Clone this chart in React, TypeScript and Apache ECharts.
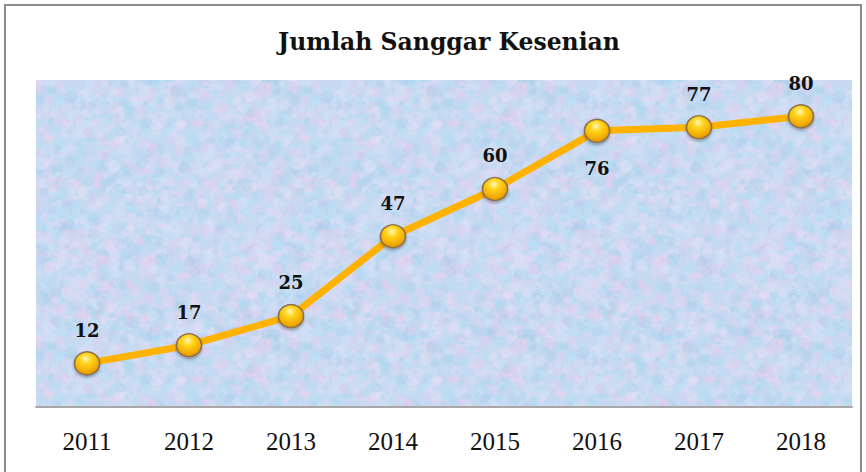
import React, { useEffect, useRef } from "react";
import * as echarts from "echarts";

const titleText = "Jumlah Sanggar Kesenian";
const years = ["2011", "2012", "2013", "2014", "2015", "2016", "2017", "2018"];
const counts = [12, 17, 25, 47, 60, 76, 77, 80];
const labelBelow = ["2016"];

function makeTexture(): HTMLCanvasElement {
  const c = document.createElement("canvas");
  c.width = 256;
  c.height = 256;
  const ctx = c.getContext("2d")!;
  ctx.fillStyle = "rgb(198,218,242)";
  ctx.fillRect(0, 0, 256, 256);
  let seed = 12345;
  const rnd = () => {
    seed = (seed * 1103515245 + 12345) & 0x7fffffff;
    return seed / 0x7fffffff;
  };
  const tints = [
    "rgba(232,206,238,0.34)",
    "rgba(176,224,244,0.34)",
    "rgba(216,228,250,0.34)",
    "rgba(240,222,244,0.3)",
    "rgba(168,204,236,0.3)",
  ];
  for (let i = 0; i < 2600; i++) {
    const x = rnd() * 256;
    const y = rnd() * 256;
    const r = 1 + rnd() * 5.5;
    ctx.fillStyle = tints[Math.floor(rnd() * tints.length)];
    for (const dx of [-256, 0, 256]) {
      for (const dy of [-256, 0, 256]) {
        ctx.beginPath();
        ctx.arc(x + dx, y + dy, r, 0, Math.PI * 2);
        ctx.fill();
      }
    }
  }
  return c;
}

export default function App() {
  const ref = useRef<HTMLDivElement>(null);
  useEffect(() => {
    document.body.style.margin = "0";
    const chart = echarts.init(ref.current!, undefined, { renderer: "svg" });
    const texture = makeTexture();
    chart.setOption({
      animation: false,
      backgroundColor: "#ffffff",
      title: {
        text: titleText,
        left: 444,
        top: 25,
        textAlign: "center",
        textStyle: {
          fontFamily: "DejaVu Serif",
          fontWeight: "bold",
          fontSize: 23.5,
          color: "#111111",
        },
      },
      graphic: [
        {
          type: "rect",
          shape: { x: 5, y: 5, width: 856, height: 480 },
          style: { fill: "none", stroke: "#8c8c8c", lineWidth: 2 },
          silent: true,
          z: 100,
        },
      ],
      grid: {
        left: 36,
        right: 14,
        top: 80,
        bottom: 65,
        show: true,
        borderWidth: 0,
        backgroundColor: { image: texture, repeat: "repeat" },
      },
      xAxis: {
        type: "category",
        data: years,
        boundaryGap: true,
        axisLine: { lineStyle: { color: "#a8a8a8", width: 2 } },
        axisTick: { show: false },
        axisLabel: {
          margin: 22,
          fontFamily: "Liberation Serif",
          fontSize: 25,
          color: "#111111",
        },
      },
      yAxis: {
        type: "value",
        min: 0,
        max: 90,
        show: false,
        splitLine: { show: false },
      },
      series: [
        {
          type: "line",
          data: counts.map((v, i) =>
            labelBelow.includes(years[i])
              ? { value: v, label: { position: "bottom", distance: 16 } }
              : v
          ),
          symbol: "circle",
          symbolSize: [25, 23],
          lineStyle: { color: "#ffb300", width: 7 },
          itemStyle: {
            color: {
              type: "radial",
              x: 0.45,
              y: 0.3,
              r: 0.75,
              colorStops: [
                { offset: 0, color: "#fff7b8" },
                { offset: 0.3, color: "#ffd51c" },
                { offset: 0.75, color: "#f2a900" },
                { offset: 1, color: "#c98b00" },
              ],
            },
            borderColor: "#8a6f50",
            borderWidth: 1.5,
            shadowBlur: 3,
            shadowColor: "rgba(0,0,0,0.3)",
            shadowOffsetY: 2,
          },
          label: {
            show: true,
            position: "top",
            distance: 12,
            fontFamily: "DejaVu Serif",
            fontWeight: "bold",
            fontSize: 18,
            color: "#111111",
          },
          z: 3,
        },
      ],
    });
    return () => chart.dispose();
  }, []);
  return <div ref={ref} style={{ width: 866, height: 472 }} />;
}
